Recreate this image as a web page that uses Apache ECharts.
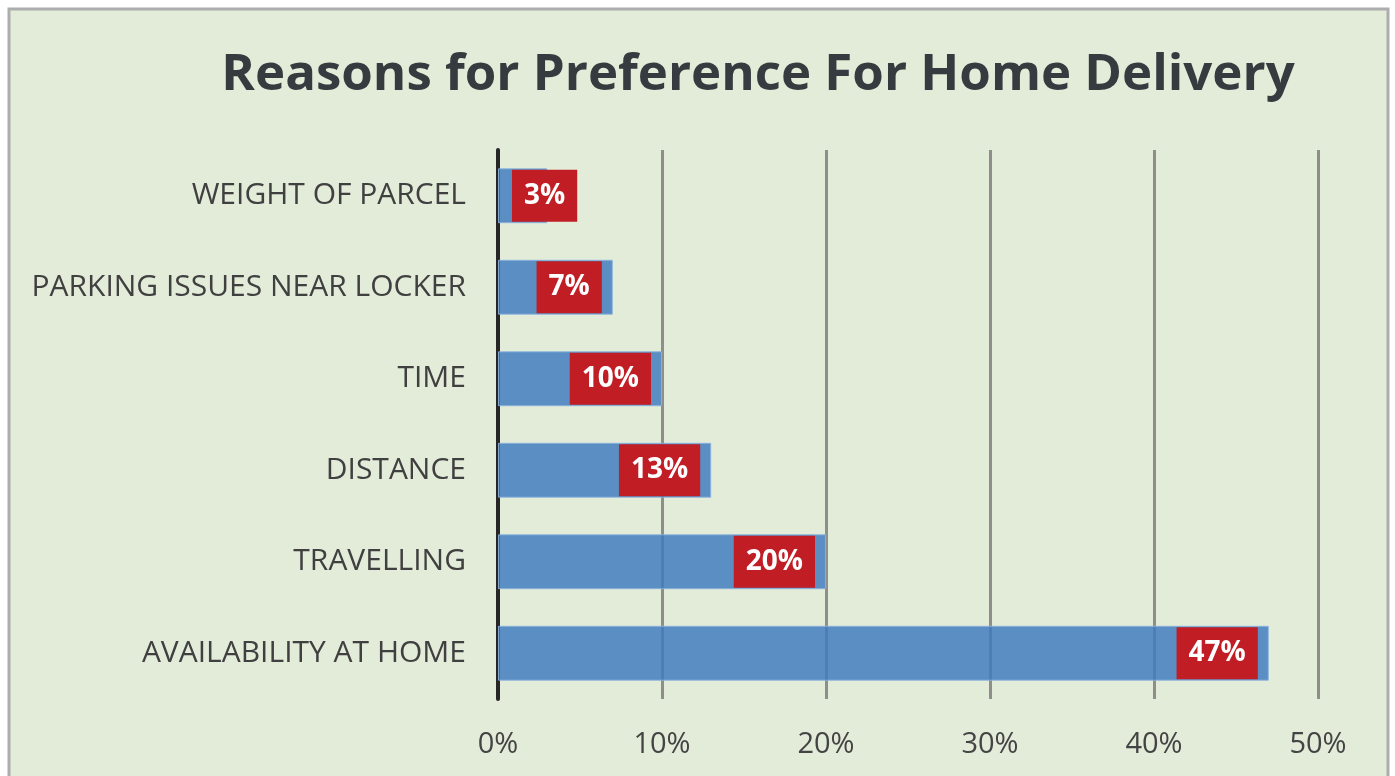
<!DOCTYPE html>
<html>
<head>
<meta charset="utf-8">
<script src="https://cdn.jsdelivr.net/npm/echarts@6/dist/echarts.min.js"></script>
<style>
  html, body { margin: 0; padding: 0; background: #ffffff; }
  #chart { width: 1395px; height: 776px; }
</style>
</head>
<body>
<div id="chart"></div>
<script>
// Reasons listed top to bottom
const categories = [
  'WEIGHT OF PARCEL',
  'PARKING ISSUES NEAR LOCKER',
  'TIME',
  'DISTANCE',
  'TRAVELLING',
  'AVAILABILITY AT HOME'
];
// Share of respondents, percent
const shares = [3, 7, 10, 13, 20, 47];
// Value axis ticks, percent
const axisTicks = [0, 10, 20, 30, 40, 50];

const FONT = '"Open Sans", "DejaVu Sans", sans-serif';

const chart = echarts.init(document.getElementById('chart'), null, { renderer: 'canvas' });

const barData = shares.map(function (v, i) {
  const item = { value: v };
  // the smallest bar is too short to hold its label inside
  if (i === 0) item.label = { offset: [41, 0] };
  return item;
});

chart.setOption({
  backgroundColor: '#ffffff',
  animation: false,
  graphic: [{
    type: 'rect',
    z: -10,
    shape: { x: 9, y: 9, width: 1379, height: 820 },
    style: { fill: '#e2ecd9', stroke: '#adadad', lineWidth: 3 }
  }],
  title: {
    text: 'Reasons for Preference For Home Delivery',
    left: 753,
    textAlign: 'center',
    top: 40,
    textStyle: {
      fontFamily: FONT,
      fontWeight: 'bold',
      fontSize: 51,
      lineHeight: 60,
      color: '#363b40'
    }
  },
  grid: { left: 498, right: 77, top: 150, bottom: 77, containLabel: false },
  xAxis: {
    type: 'value',
    min: axisTicks[0],
    max: axisTicks[axisTicks.length - 1],
    interval: axisTicks[1] - axisTicks[0],
    axisLine: { show: false },
    axisTick: { show: false },
    splitLine: { show: true, lineStyle: { color: '#8e8f8c', width: 3 } },
    axisLabel: {
      margin: 31,
      fontFamily: FONT,
      fontSize: 29,
      color: '#444444',
      formatter: '{value}%'
    }
  },
  yAxis: {
    type: 'category',
    inverse: true,
    data: categories,
    axisTick: { show: false },
    axisLine: { show: true, lineStyle: { color: '#262626', width: 4 } },
    axisLabel: {
      margin: 32,
      fontFamily: FONT,
      fontSize: 30,
      color: '#404040'
    }
  },
  series: [{
    type: 'bar',
    data: barData,
    barWidth: '60%',
    itemStyle: {
      color: 'rgba(64,124,190,0.83)',
      borderColor: 'rgba(140,178,222,0.9)',
      borderWidth: 1
    },
    label: {
      show: true,
      position: 'insideRight',
      distance: 11,
      formatter: '{c}%',
      fontFamily: FONT,
      fontWeight: 'bold',
      fontSize: 28,
      color: '#ffffff',
      backgroundColor: '#c01d24',
      padding: [10, 12, 8, 12],
      lineHeight: 34
    }
  }]
});
</script>
</body>
</html>
